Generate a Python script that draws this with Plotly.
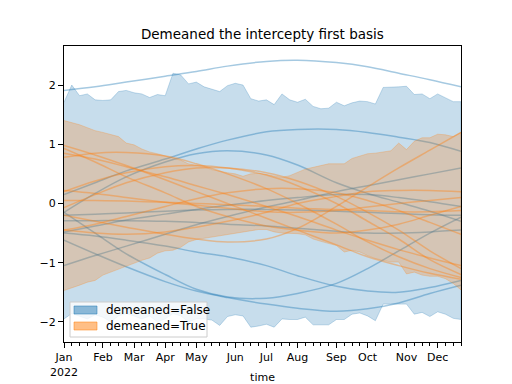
import plotly.graph_objects as go

# ---------------- data ----------------
weeks = list(range(52))
# band: demeaned=False (blue)
blue_upper = [1.71, 2.00, 1.82, 1.85, 1.75, 1.74, 1.75, 1.89, 1.91, 1.87, 1.85, 1.79, 1.84,
              1.82, 2.20, 2.17, 2.02, 2.05, 1.97, 1.93, 1.89, 1.99, 2.03, 2.00, 1.77, 1.73,
              1.75, 1.67, 1.85, 1.75, 1.71, 1.76, 1.64, 1.60, 1.61, 1.71, 1.65, 1.70, 1.73,
              1.72, 1.68, 1.96, 1.96, 1.97, 1.98, 1.84, 1.85, 1.77, 1.85, 1.78, 1.72, 1.72]
blue_lower = [-1.95, -1.86, -1.90, -1.95, -1.88, -1.92, -2.00, -1.90, -1.86, -1.90, -1.95, -1.90,
              -2.00, -1.95, -1.86, -1.90, -2.00, -1.95, -1.95, -1.97, -2.06, -1.91, -1.88, -1.90,
              -2.09, -2.07, -2.04, -2.09, -1.95, -1.96, -1.96, -1.92, -2.05, -2.05, -2.05, -1.96,
              -1.96, -1.87, -1.85, -1.90, -1.98, -1.70, -1.70, -1.70, -1.70, -1.87, -1.84, -1.91,
              -1.83, -1.87, -1.94, -1.96]
# band: demeaned=True (orange)
orange_upper = [1.40, 1.37, 1.33, 1.28, 1.23, 1.20, 1.16, 1.13, 1.02, 0.99, 0.92, 0.87, 0.84,
                0.80, 0.77, 0.73, 0.67, 0.64, 0.62, 0.57, 0.54, 0.52, 0.50, 0.46, 0.50, 0.51,
                0.49, 0.46, 0.44, 0.47, 0.53, 0.58, 0.61, 0.64, 0.67, 0.67, 0.67, 0.76, 0.80,
                0.84, 0.85, 0.87, 0.89, 1.02, 0.91, 1.05, 1.11, 1.11, 1.17, 1.16, 1.13, 1.20]
orange_lower = [-1.47, -1.42, -1.38, -1.33, -1.30, -1.21, -1.15, -1.10, -1.06, -1.01, -0.96, -0.92,
                -0.84, -0.80, -0.79, -0.74, -0.65, -0.61, -0.58, -0.56, -0.54, -0.53, -0.51, -0.48,
                -0.46, -0.44, -0.44, -0.48, -0.50, -0.51, -0.51, -0.53, -0.60, -0.64, -0.68, -0.71,
                -0.82, -0.79, -0.82, -0.88, -0.93, -0.96, -0.99, -0.99, -1.19, -1.16, -1.21, -1.23,
                -1.23, -1.27, -1.35, -1.46]

# basis curves, sampled at these weeks
curve_weeks = [0, 4, 8, 13, 17, 21, 26, 30, 35, 39, 43, 47, 51]
blue_curves = [
    [1.91, 1.97, 2.05, 2.15, 2.23, 2.32, 2.40, 2.42, 2.38, 2.31, 2.20, 2.09, 1.97],
    [0.15, 0.35, 0.55, 0.75, 0.92, 1.07, 1.21, 1.25, 1.25, 1.20, 1.12, 1.03, 0.88],
    [-0.15, 0.17, 0.45, 0.70, 0.84, 0.89, 0.82, 0.65, 0.35, 0.17, 0.02, -0.13, -0.30],
    [-1.05, -0.88, -0.72, -0.52, -0.36, -0.22, -0.06, 0.05, 0.20, 0.30, 0.40, 0.50, 0.60],
    [-0.15, -0.50, -0.85, -1.20, -1.45, -1.58, -1.60, -1.52, -1.35, -1.10, -0.80, -0.50, -0.23],
    [-0.62, -0.85, -1.07, -1.32, -1.48, -1.59, -1.70, -1.77, -1.82, -1.78, -1.68, -1.52, -1.38],
    [-0.50, -0.55, -0.62, -0.72, -0.82, -0.90, -1.05, -1.22, -1.40, -1.48, -1.50, -1.42, -1.30],
    [-0.20, -0.18, -0.16, -0.13, -0.11, -0.10, -0.10, -0.11, -0.13, -0.15, -0.17, -0.19, -0.20],
    [-0.29, -0.29, -0.29, -0.30, -0.32, -0.35, -0.38, -0.42, -0.47, -0.50, -0.50, -0.48, -0.45],
    [-0.48, -0.38, -0.28, -0.18, -0.10, -0.03, 0.05, 0.10, 0.15, 0.15, 0.10, 0.03, -0.05],
]
orange_curves = [
    [-0.20, -0.30, -0.40, -0.52, -0.60, -0.65, -0.60, -0.42, -0.05, 0.28, 0.60, 0.90, 1.20],
    [0.98, 0.82, 0.64, 0.40, 0.20, 0.00, -0.25, -0.45, -0.70, -0.90, -1.05, -1.18, -1.28],
    [0.78, 0.85, 0.86, 0.80, 0.67, 0.50, 0.25, 0.00, -0.35, -0.65, -0.90, -1.10, -1.25],
    [0.20, 0.38, 0.52, 0.62, 0.64, 0.60, 0.48, 0.30, 0.00, -0.30, -0.60, -0.95, -1.20],
    [-0.07, 0.15, 0.35, 0.52, 0.60, 0.60, 0.52, 0.38, 0.12, -0.15, -0.45, -0.80, -1.10],
    [-0.45, -0.50, -0.52, -0.48, -0.40, -0.30, -0.15, 0.00, 0.12, 0.20, 0.22, 0.22, 0.20],
    [0.22, 0.17, 0.10, 0.02, -0.03, -0.08, -0.14, -0.15, -0.12, -0.06, 0.00, 0.05, 0.10],
    [0.93, 0.70, 0.45, 0.18, -0.05, -0.22, -0.38, -0.45, -0.50, -0.45, -0.35, -0.20, -0.05],
    [0.05, 0.05, 0.04, 0.02, 0.00, -0.02, -0.05, -0.08, -0.10, -0.12, -0.14, -0.14, -0.12],
    [0.85, 0.75, 0.62, 0.45, 0.30, 0.15, -0.05, -0.22, -0.45, -0.62, -0.78, -0.92, -1.05],
    [-0.45, -0.35, -0.22, -0.05, 0.08, 0.18, 0.25, 0.25, 0.18, 0.05, -0.12, -0.32, -0.52],
]
tick_weeks = [0, 5, 9, 13, 17, 22, 26, 30, 35, 39, 44, 48]
tick_labels = ["Jan<br>2022", "Feb", "Mar", "Apr", "May", "Jun", "Jul", "Aug",
               "Sep", "Oct", "Nov", "Dec"]
series_names = ["demeaned=False", "demeaned=True"]

BLUE = (31, 119, 180)
ORANGE = (255, 127, 14)

# plot-area geometry in pixels (for the hand-built legend)
L, R, T, B = 64, 461, 46, 342
W, H = R - L, B - T


def rgba(c, a):
    return f"rgba({c[0]},{c[1]},{c[2]},{a})"


def px(x):
    return (x - L) / W


def py(y):
    return (B - y) / H


fig = go.Figure()


def add_band(upper, lower, col):
    fig.add_trace(go.Scatter(
        x=weeks + weeks[::-1], y=upper + lower[::-1], fill="toself",
        fillcolor=rgba(col, 0.25), line=dict(color=rgba(col, 0.25), width=1),
        mode="lines", showlegend=False, hoverinfo="skip"))


def add_curves(curves, col):
    for c in curves:
        fig.add_trace(go.Scatter(
            x=curve_weeks, y=c, mode="lines",
            line=dict(color=rgba(col, 0.4), width=1.5, shape="spline", smoothing=1.0),
            showlegend=False, hoverinfo="skip"))


add_band(blue_upper, blue_lower, BLUE)
add_curves(blue_curves, BLUE)
add_band(orange_upper, orange_lower, ORANGE)
add_curves(orange_curves, ORANGE)

# hand-built legend (matplotlib style)
shapes = [dict(type="rect", xref="paper", yref="paper", x0=px(70), x1=px(207),
               y0=py(337), y1=py(302), fillcolor="rgba(255,255,255,0.8)",
               line=dict(color="#cccccc", width=1), layer="above")]
annotations = []
for i, (name, col) in enumerate(zip(series_names, [BLUE, ORANGE])):
    yc = 310 + 16 * i
    shapes.append(dict(type="rect", xref="paper", yref="paper", x0=px(74), x1=px(97),
                       y0=py(yc + 4), y1=py(yc - 4), fillcolor=rgba(col, 0.5),
                       line=dict(color=rgba(col, 0.5), width=1), layer="above"))
    annotations.append(dict(text=name, xref="paper", yref="paper", x=px(104), y=py(yc),
                            xanchor="left", yanchor="middle", showarrow=False,
                            font=dict(size=12)))

fig.update_layout(
    width=512, height=384,
    margin=dict(l=L, r=512 - R, t=T, b=384 - B),
    paper_bgcolor="white", plot_bgcolor="white",
    font=dict(family="DejaVu Sans", size=11, color="black"),
    title=dict(text="Demeaned the intercepty first basis", x=0.5125, xanchor="center",
               y=1 - 34 / 384, yanchor="middle", font=dict(size=13.5)),
    showlegend=False,
    shapes=shapes, annotations=annotations,
)
fig.update_xaxes(
    range=[0, 51], showgrid=False, zeroline=False, showline=True, linecolor="black",
    linewidth=1, mirror=True, ticks="outside", ticklen=5, tickcolor="black",
    tickmode="array", tickvals=tick_weeks, ticktext=tick_labels,
    minor=dict(ticks="outside", ticklen=2.5, tickcolor="black", dtick=1, tick0=0),
    title=dict(text="time", standoff=6, font=dict(size=11)), automargin=False,
)
fig.update_yaxes(
    range=[-2.34, 2.66], showgrid=False, zeroline=False, showline=True, linecolor="black",
    linewidth=1, mirror=True, ticks="outside", ticklen=5, tickcolor="black",
    tickvals=[-2, -1, 0, 1, 2], automargin=False,
)

fig.write_html("out.html", post_script="document.body.style.margin='0';",
               config={"displayModeBar": False})
